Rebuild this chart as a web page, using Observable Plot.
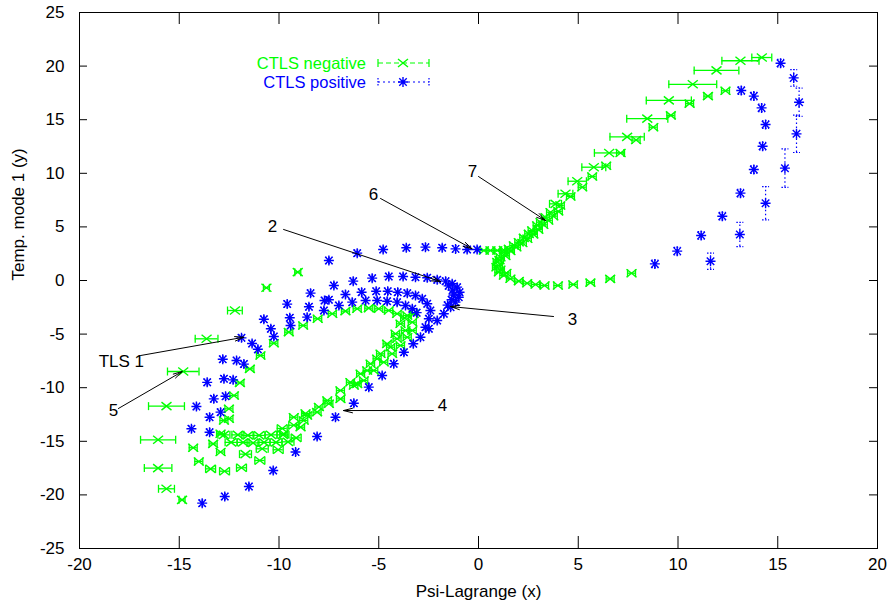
<!DOCTYPE html>
<html>
<head>
<meta charset="utf-8">
<script src="https://cdn.jsdelivr.net/npm/d3@7"></script>
<script src="https://cdn.jsdelivr.net/npm/@observablehq/plot@0.6"></script>
<style>
  body { margin: 0; background: #fff; }
  #chart { position: relative; width: 889px; height: 604px; font-family: "Liberation Sans", Arial, sans-serif; }
  #chart svg.key { position: absolute; left: 0; top: 0; pointer-events: none; }
</style>
</head>
<body>
<div id="chart"></div>
<script>
// CTLS negative: x, y and horizontal (x) error
const negX = [
  14.2, 13.13, 11.93, 10.74, 9.54, 8.46, 7.45, 6.55, 5.78, 4.95, 4.36, 3.86,
  12.38, 11.5, 10.58, 9.64, 8.76, 7.9, 7.12, 6.4, 5.7, 5.2, 4.61, 4.1, 3.61, 3.36, 3.11, 2.94, 2.69, 2.52,
  2.27, 2.02, 1.77, 1.52, 1.27, 1.1, 0.94, 0.9, 1.02, 1.27, 1.6, 2.02, 2.44, 2.86, 3.31, 3.98, 4.75, 5.61, 6.6, 7.67,
  0.27, 0.6, 0.94, 1.27,
  1.35, 1.6, 1.9, 2.2, 2.45, 2.75, 3.0, 3.25, 3.5, 3.75, 4.0, 1.05, 1.0, 1.1, 1.4,
  -10.63, -12.21, -13.63, -14.8, -15.64, -16.06, -16.06, -15.64, -14.86, -9.06,
  -10.26, -10.93, -11.46, -11.96, -12.26, -12.51, -12.76, -12.51, -12.93,
  -14.3, -14.02, -13.43, -12.73, -11.88, -10.96, -10.04, -9.14, -8.59,
  -12.76, -12.06, -11.56, -11.0, -10.4, -9.8,
  -12.4, -11.8, -11.3, -10.75, -10.15, -9.55,
  -13.3, -12.93, -11.68, -10.84, -9.84, -9.26, -8.76,
  -9.26, -8.67, -8.0, -7.58, -6.92, -6.42, -5.91, -5.41, -4.91, -4.58, -4.16, -3.91, -3.57,
  -6.08, -5.58, -5.08, -4.41, -4.08, -3.66, -3.32, -3.25,
  -3.32, -3.57, -3.91, -4.33, -4.75, -5.25, -5.75, -6.25, -6.92, -7.5, -8.09, -8.92, -9.76,
  -9.51, -8.79, -8.06, -7.33, -6.67, -6.08, -5.5, -5.0, -4.5, -4.08, -3.7
];
const negY = [
  20.8, 20.5, 19.6, 18.3, 16.8, 15.1, 13.4, 11.9, 10.57, 9.26, 8.09, 7.15,
  17.7, 17.2, 16.5, 15.4, 14.3, 13.1, 11.9, 10.7, 9.7, 8.7, 7.84, 7.0, 6.37, 5.9, 5.44, 5.13, 4.66, 4.35,
  3.98, 3.57, 3.26, 2.95, 2.64, 2.17, 1.71, 1.24, 0.77, 0.47, 0.16, -0.06, -0.25, -0.37, -0.47, -0.47, -0.37, -0.2, 0.15, 0.68,
  2.8, 2.8, 2.8, 2.85,
  2.3, 2.75, 3.1, 3.5, 3.9, 4.3, 4.75, 5.2, 5.6, 6.0, 6.45, 1.9, 1.4, 1.0, 0.7,
  -0.68, -2.8, -5.44, -8.49, -11.72, -14.86, -17.5, -19.43, -20.46, 0.78,
  -5.85, -7.0, -8.24, -9.55, -10.73, -11.97, -13.06, -12.9, -14.3,
  -15.6, -16.88, -17.57, -17.79, -17.47, -16.79, -15.79, -14.68, -12.6,
  -14.4, -14.4, -14.45, -14.45, -14.4, -14.4,
  -15.1, -15.1, -15.15, -15.1, -15.1, -15.05,
  -15.24, -16.0, -16.2, -15.7, -13.8, -13.5, -13.06,
  -12.75, -12.4, -11.8, -11.2, -10.26, -9.49, -8.7, -7.77, -6.84, -5.91, -4.97, -4.04, -3.26,
  -9.64, -8.4, -7.3, -6.22, -5.44, -4.66, -3.89, -3.1,
  -4.66, -5.29, -6.06, -6.84, -7.62, -8.4, -9.33, -9.8, -11.04, -11.5, -12.28, -13.68, -14.3,
  -4.82, -4.2, -3.57, -3.1, -2.86, -2.64, -2.58, -2.64, -2.8, -3.1, -3.5
];
const negErr = [
  0.5, 0.93, 1.12, 1.2, 1.13, 1.03, 0.86, 0.74, 0.6, 0.46, 0.37, 0.3,
  0.2, 0.2, 0.2, 0.2, 0.2, 0.2, 0.2, 0.2, 0.2, 0.2, 0.2, 0.2, 0.2, 0.2, 0.2, 0.2, 0.2, 0.2,
  0.2, 0.2, 0.2, 0.2, 0.2, 0.2, 0.2, 0.2, 0.2, 0.2, 0.2, 0.2, 0.2, 0.2, 0.2, 0.2, 0.2, 0.2, 0.2, 0.2,
  0.2, 0.2, 0.2, 0.2,
  0.2, 0.2, 0.2, 0.2, 0.2, 0.2, 0.2, 0.2, 0.2, 0.2, 0.2, 0.2, 0.2, 0.2, 0.2,
  0.15, 0.37, 0.57, 0.79, 0.9, 0.88, 0.69, 0.4, 0.15, 0.15,
  0.2, 0.2, 0.2, 0.2, 0.2, 0.2, 0.2, 0.2, 0.2,
  0.2, 0.2, 0.25, 0.25, 0.25, 0.25, 0.25, 0.25, 0.2,
  0.3, 0.3, 0.3, 0.3, 0.3, 0.3,
  0.3, 0.3, 0.3, 0.3, 0.3, 0.3,
  0.2, 0.2, 0.3, 0.3, 0.25, 0.25, 0.2,
  0.2, 0.2, 0.2, 0.2, 0.2, 0.2, 0.2, 0.2, 0.2, 0.2, 0.2, 0.2, 0.2,
  0.2, 0.2, 0.2, 0.2, 0.2, 0.2, 0.2, 0.2,
  0.2, 0.2, 0.2, 0.2, 0.2, 0.2, 0.2, 0.2, 0.2, 0.2, 0.2, 0.2, 0.2,
  0.2, 0.2, 0.2, 0.2, 0.2, 0.2, 0.2, 0.2, 0.2, 0.2, 0.2
];

// CTLS positive: x, y and vertical (y) error
const posX = [
  15.8, 16.07, 15.94, 15.36, 14.39, 13.1, 11.63,
  15.14, 13.17, 13.8, 14.19, 14.39, 14.24, 13.8, 13.13, 12.22, 11.16, 9.96, 8.84,
  -0.07, -0.57, -1.15, -1.82, -2.66, -3.62, -4.78, -6.08, -7.5,
  -7.25, -6.28, -5.33, -4.5, -3.78, -3.16, -2.57, -2.07, -1.65, -1.32, -1.07, -0.95, -0.99, -1.15, -1.4, -1.74,
  -2.07, -2.49, -2.91, -3.27, -3.74, -4.25, -4.83, -5.5, -6.25, -7.17, -8.09, -9.17, -10.29, -11.51, -12.72, -13.85,
  -1.5, -1.3, -1.25, -1.35, -1.55,
  -8.42, -7.5, -6.67, -5.86, -5.13, -4.55, -4.05, -3.57, -3.16, -2.82, -2.57, -2.41, -2.49, -2.66,
  -9.59, -8.5, -7.72, -7.0, -6.33, -5.66, -5.08, -4.58, -4.08, -3.66, -3.32, -3.1,
  -9.46, -9.42, -8.59, -7.75, -10.76, -10.41, -10.26, -11.88, -11.35, -11.06, -12.82, -12.13, -11.76,
  -13.6, -12.76, -12.3, -12.68, -13.27, -14.14, -12.93, -13.48, -14.39, -13.48
];
const posY = [
  18.9, 16.63, 13.68, 10.48, 7.21, 4.29, 1.8,
  20.27, 17.72, 17.2, 16.1, 14.55, 12.53, 10.35, 8.15, 6.0, 4.2, 2.74, 1.55,
  2.89, 2.89, 2.95, 3.05, 3.11, 3.05, 2.89, 2.55, 1.87,
  -0.47, -0.06, 0.22, 0.37, 0.37, 0.31, 0.25, 0.06, -0.06, -0.31, -0.62, -1.09, -1.56, -2.02, -2.49, -3.1,
  -3.73, -4.5, -5.29, -5.9, -6.69, -7.77, -8.86, -9.95, -11.45, -12.75, -14.55, -16.0, -17.72, -19.22, -20.15, -20.77,
  -0.5, -0.9, -1.35, -1.8, -2.3,
  -1.18, -1.8, -1.3, -1.09, -1.0, -1.0, -1.09, -1.18, -1.4, -1.71, -2.17, -2.8, -3.57, -4.36,
  -2.2, -2.45, -1.87, -2.33, -2.02, -1.87, -1.87, -1.93, -2.02, -2.33, -2.64, -3.0,
  -3.48, -4.2, -3.42, -2.8, -3.62, -4.5, -5.22, -5.35, -5.88, -6.42, -7.35, -7.46, -7.8,
  -9.5, -9.17, -9.27, -10.8, -11.04, -11.75, -12.28, -12.75, -13.83, -14.15
];
const posErr = [
  0.78, 1.32, 1.74, 1.79, 1.55, 1.13, 0.76,
  0.35, 0.35, 0.35, 0.35, 0.35, 0.35, 0.35, 0.35, 0.35, 0.35, 0.35, 0.35,
  0.3, 0.3, 0.3, 0.3, 0.3, 0.3, 0.3, 0.3, 0.3,
  0.3, 0.3, 0.3, 0.3, 0.3, 0.3, 0.3, 0.3, 0.3, 0.3, 0.3, 0.3, 0.3, 0.3, 0.3, 0.3,
  0.3, 0.3, 0.3, 0.3, 0.3, 0.3, 0.3, 0.3, 0.3, 0.3, 0.3, 0.3, 0.3, 0.3, 0.3, 0.3,
  0.3, 0.3, 0.3, 0.3, 0.3,
  0.3, 0.3, 0.3, 0.3, 0.3, 0.3, 0.3, 0.3, 0.3, 0.3, 0.3, 0.3, 0.3, 0.3,
  0.3, 0.3, 0.3, 0.3, 0.3, 0.3, 0.3, 0.3, 0.3, 0.3, 0.3, 0.3,
  0.3, 0.3, 0.3, 0.3, 0.3, 0.3, 0.3, 0.3, 0.3, 0.3, 0.3, 0.3, 0.3,
  0.3, 0.3, 0.3, 0.3, 0.3, 0.3, 0.3, 0.3, 0.3, 0.3
];

// Axis ticks
const xTicks = [-20, -15, -10, -5, 0, 5, 10, 15, 20];
const yTicks = [-25, -20, -15, -10, -5, 0, 5, 10, 15, 20, 25];

// Annotations: label text, label position, arrow tail and head
const noteText = ["2", "6", "7", "3", "4", "TLS 1", "5"];
const noteX = [-10.33, -5.26, -0.3, 4.71, -1.8, -17.9, -18.3];
const noteY = [5.04, 8.02, 10.17, -3.64, -11.66, -7.56, -12.13];
const arrowX1 = [-9.77, -4.91, 0.0, 3.76, -2.26, -16.94, -18.05];
const arrowY1 = [4.76, 7.65, 9.7, -3.36, -12.13, -7.0, -11.94];
const arrowX2 = [-1.9, -0.32, 3.36, -1.4, -6.77, -11.76, -14.85];
const arrowY2 = [-0.1, 2.96, 5.6, -2.43, -12.13, -5.29, -8.49];

const seriesNames = ["CTLS negative", "CTLS positive"];
const GREEN = "#00ff00", BLUE = "#0000ff";

const neg = negX.map((x, i) => ({x, y: negY[i], e: negErr[i]}));
const pos = posX.map((x, i) => ({x, y: posY[i], e: posErr[i]}));
const notes = noteText.map((t, i) => ({
  t, x: noteX[i], y: noteY[i],
  x1: arrowX1[i], y1: arrowY1[i], x2: arrowX2[i], y2: arrowY2[i]
}));

// Marker shapes (r is the half-size in pixels)
const half = (size) => Math.sqrt(size / Math.PI);
const crossMark = {draw(ctx, size) {
  const r = half(size), h = r * 0.8;
  ctx.moveTo(-r, -h); ctx.lineTo(r, h);
  ctx.moveTo(-r, h); ctx.lineTo(r, -h);
}};
const starMark = {draw(ctx, size) {
  const r = half(size), d = r * 0.75;
  ctx.moveTo(-r, 0); ctx.lineTo(r, 0);
  ctx.moveTo(0, -r); ctx.lineTo(0, r);
  ctx.moveTo(-d, -d); ctx.lineTo(d, d);
  ctx.moveTo(-d, d); ctx.lineTo(d, -d);
}};
const capV = {draw(ctx, size) { const r = half(size); ctx.moveTo(0, -r); ctx.lineTo(0, r); }};
const capH = {draw(ctx, size) { const r = half(size); ctx.moveTo(-r, 0); ctx.lineTo(r, 0); }};

const FONT = "Liberation Sans, Arial, Helvetica, sans-serif";
const innerH = 604 - 12 - 56, innerW = 889 - 79 - 12;
const xTickLen = 12, yTickLen = 8;

const chart = Plot.plot({
  width: 889,
  height: 604,
  marginLeft: 79,
  marginRight: 12,
  marginTop: 12,
  marginBottom: 56,
  style: {fontFamily: FONT, fontSize: "17px", background: "white", color: "black"},
  x: {domain: [-20, 20]},
  y: {domain: [-25, 25]},
  marks: [
    // inward tick marks on all four sides
    Plot.tickX(xTicks, {x: d => d, insetTop: innerH - xTickLen, stroke: "black"}),
    Plot.tickX(xTicks, {x: d => d, insetBottom: innerH - xTickLen, stroke: "black"}),
    Plot.tickY(yTicks, {y: d => d, insetRight: innerW - yTickLen, stroke: "black"}),
    Plot.tickY(yTicks, {y: d => d, insetLeft: innerW - yTickLen, stroke: "black"}),
    Plot.axisX(xTicks, {tickSize: 0, tickPadding: 9, fontSize: 17, label: null, tickFormat: d => String(d)}),
    Plot.axisY(yTicks, {tickSize: 0, tickPadding: 15, fontSize: 17, label: null, tickFormat: d => String(d)}),
    Plot.text(["Psi-Lagrange (x)"], {frameAnchor: "bottom", dy: 48, fontSize: 17, fill: "black"}),
    Plot.text(["Temp. mode 1 (y)"], {frameAnchor: "left", dx: -61, rotate: -90, fontSize: 17, fill: "black"}),

    // CTLS negative: horizontal error bars with end caps
    Plot.ruleY(neg, {y: "y", x1: d => d.x - d.e, x2: d => d.x + d.e, stroke: GREEN, strokeWidth: 1.3}),
    Plot.dot(neg, {x: d => d.x - d.e, y: "y", symbol: capV, r: 4, fill: "none", stroke: GREEN, strokeWidth: 1.3}),
    Plot.dot(neg, {x: d => d.x + d.e, y: "y", symbol: capV, r: 4, fill: "none", stroke: GREEN, strokeWidth: 1.3}),
    Plot.dot(neg, {x: "x", y: "y", symbol: crossMark, r: 5, fill: "none", stroke: GREEN, strokeWidth: 1.4}),

    // CTLS positive: vertical dotted error bars with end caps
    Plot.ruleX(pos, {x: "x", y1: d => d.y - d.e, y2: d => d.y + d.e, stroke: BLUE, strokeWidth: 1.2, strokeDasharray: "1.5,2.5"}),
    Plot.dot(pos, {x: "x", y: d => d.y - d.e, symbol: capH, r: 3.5, fill: "none", stroke: BLUE, strokeWidth: 1.2, strokeDasharray: "1.5,1.5"}),
    Plot.dot(pos, {x: "x", y: d => d.y + d.e, symbol: capH, r: 3.5, fill: "none", stroke: BLUE, strokeWidth: 1.2, strokeDasharray: "1.5,1.5"}),
    Plot.dot(pos, {x: "x", y: "y", symbol: starMark, r: 5, fill: "none", stroke: BLUE, strokeWidth: 1.4}),

    // annotations
    Plot.arrow(notes, {x1: "x1", y1: "y1", x2: "x2", y2: "y2", stroke: "black", strokeWidth: 1, headAngle: 28, headLength: 14}),
    Plot.text(notes, {x: "x", y: "y", text: "t", fontSize: 17, fill: "black"}),

    Plot.frame({stroke: "black", strokeWidth: 1})
  ]
});

const root = document.getElementById("chart");
root.appendChild(chart);

// key in the upper left of the plot area
const key = d3.select(root).append("svg")
  .attr("class", "key").attr("width", 889).attr("height", 604);
const keyRows = [
  {name: seriesNames[0], color: GREEN, dash: "5,3", y: 63, mark: crossMark},
  {name: seriesNames[1], color: BLUE, dash: "2,3", y: 82, mark: starMark}
];
const rows = key.selectAll("g").data(keyRows).join("g");
rows.append("text")
  .attr("x", 366).attr("y", d => d.y).attr("dy", "0.35em")
  .attr("text-anchor", "end").attr("fill", d => d.color)
  .style("font-family", FONT).style("font-size", "16.5px")
  .text(d => d.name);
rows.append("line")
  .attr("x1", 378).attr("x2", 429).attr("y1", d => d.y).attr("y2", d => d.y)
  .attr("stroke", d => d.color).attr("stroke-width", 1.2).attr("stroke-dasharray", d => d.dash);
rows.append("path")
  .attr("d", d => `M378,${d.y - 4}V${d.y + 4}M429,${d.y - 4}V${d.y + 4}`)
  .attr("stroke", d => d.color).attr("stroke-width", 1.2).attr("stroke-dasharray", d => d.dash === "2,3" ? "1.5,1.5" : null);
rows.append("path")
  .attr("transform", d => `translate(403,${d.y})`)
  .attr("d", d => d3.symbol(d.mark, 25 * Math.PI)())
  .attr("fill", "none").attr("stroke", d => d.color).attr("stroke-width", 1.4);
</script>
</body>
</html>
